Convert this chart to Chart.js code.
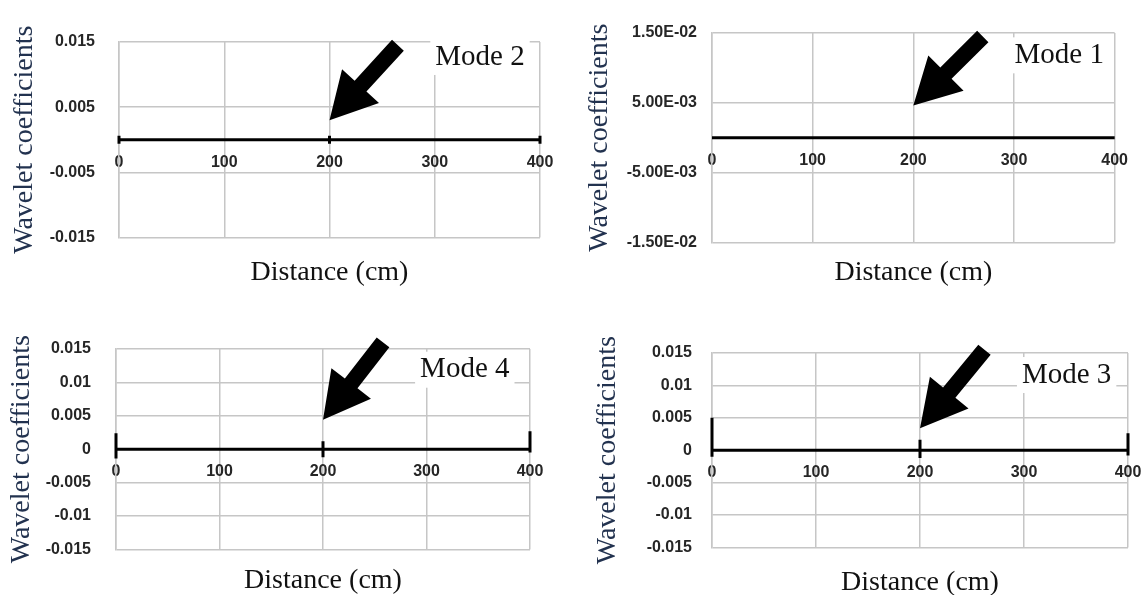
<!DOCTYPE html>
<html>
<head>
<meta charset="utf-8">
<script src="https://cdn.jsdelivr.net/npm/chart.js@4.4.1/dist/chart.umd.min.js"></script>
<style>
  html, body { margin: 0; padding: 0; background: #fff; overflow: hidden; width: 1141px; height: 595px; }
  body { position: relative; }
  canvas { position: absolute; }
</style>
</head>
<body>
<canvas id="mode2" width="570" height="300" style="left:0;top:0"></canvas>
<canvas id="mode1" width="571" height="300" style="left:570px;top:0"></canvas>
<canvas id="mode4" width="570" height="310" style="left:0;top:295px"></canvas>
<canvas id="mode3" width="600" height="310" style="left:570px;top:295px"></canvas>
<script>
// distance axis (cm)
const distanceTicks = [0, 100, 200, 300, 400];

// wavelet coefficients
const mode2X = [0, 200, 400];
const mode2Y = [0, 0, 0];
const mode1X = [0, 200, 400];
const mode1Y = [0, 0, 0];
const mode4X = [0, 0, 0, 200, 200, 200, 200, 400, 400, 400];
const mode4Y = [0.0024, -0.0014, 0, 0, 0.0012, -0.0012, 0, 0, 0.0027, -0.0005];
const mode3X = [0, 0, 0, 200, 200, 200, 200, 400, 400, 400];
const mode3Y = [0.005, -0.001, 0, 0, 0.0016, -0.0012, 0, 0, 0.0026, -0.0008];

// y tick values / labels
const topTickValues = [-0.015, -0.005, 0.005, 0.015];
const mode2TickLabels = ['-0.015', '-0.005', '0.005', '0.015'];
const mode1TickLabels = ['-1.50E-02', '-5.00E-03', '5.00E-03', '1.50E-02'];
const bottomTickValues = [-0.015, -0.01, -0.005, 0, 0.005, 0.01, 0.015];
const bottomTickLabels = ['-0.015', '-0.01', '-0.005', '0', '0.005', '0.01', '0.015'];

const serif = '"Liberation Serif", "Times New Roman", serif';
const sans = '"Liberation Sans", Arial, sans-serif';
const gridColor = '#c6c6c6';
const tickColor = '#262626';

// arrow + "Mode n" box, placed in data coordinates
const notesPlugin = {
  id: 'notes',
  afterDatasetsDraw(chart, args, opts) {
    const { ctx, scales: { x, y } } = chart;
    const [x0, y0, x1, y1] = opts.arrow;
    const tx = x.getPixelForValue(x0), ty = y.getPixelForValue(y0);
    const hx = x.getPixelForValue(x1), hy = y.getPixelForValue(y1);
    const ang = Math.atan2(hy - ty, hx - tx);
    const len = Math.hypot(hx - tx, hy - ty);
    const headLen = 46, headW = 25, shaftW = 8;

    ctx.save();
    ctx.font = '29px ' + serif;
    const w = ctx.measureText(opts.text).width;
    const cx = x.getPixelForValue(opts.at[0]), cy = y.getPixelForValue(opts.at[1]);
    ctx.fillStyle = '#fff';
    ctx.fillRect(cx - w / 2 - 5, cy - 18, w + 10, 36);
    ctx.fillStyle = '#111';
    ctx.textAlign = 'center';
    ctx.textBaseline = 'middle';
    ctx.fillText(opts.text, cx, cy);
    ctx.restore();

    ctx.save();
    ctx.translate(hx, hy);
    ctx.rotate(ang);
    ctx.beginPath();
    ctx.moveTo(0, 0);
    ctx.lineTo(-headLen, -headW);
    ctx.lineTo(-headLen, -shaftW);
    ctx.lineTo(-len, -shaftW);
    ctx.lineTo(-len, shaftW);
    ctx.lineTo(-headLen, shaftW);
    ctx.lineTo(-headLen, headW);
    ctx.closePath();
    ctx.fillStyle = '#000';
    ctx.fill();
    ctx.restore();
  }
};

const panels = [
  { id: 'mode2', name: 'Mode 2', xs: mode2X, ys: mode2Y, tickValues: topTickValues, tickLabels: mode2TickLabels,
    markers: true, pad: { left: 8, top: 42, right: 30, bottom: 11 }, axisWidth: 111, tickPad: 24, titlePad: 18,
    arrow: [265, 0.0145, 200, 0.003], modeAt: [343, 0.0127] },
  { id: 'mode1', name: 'Mode 1', xs: mode1X, ys: mode1Y, tickValues: topTickValues, tickLabels: mode1TickLabels,
    markers: false, pad: { left: 13, top: 33, right: 23, bottom: 11 }, axisWidth: 129, tickPad: 15, titlePad: 13,
    arrow: [269, 0.0145, 200, 0.0046], modeAt: [345, 0.0118] },
  { id: 'mode4', name: 'Mode 4', xs: mode4X, ys: mode4Y, tickValues: bottomTickValues, tickLabels: bottomTickLabels,
    markers: false, pad: { left: 5, top: 54, right: 40, bottom: 8 }, axisWidth: 111, tickPad: 25, titlePad: 14,
    arrow: [258, 0.016, 200, 0.0044], modeAt: [337, 0.0119] },
  { id: 'mode3', name: 'Mode 3', xs: mode3X, ys: mode3Y, tickValues: bottomTickValues, tickLabels: bottomTickLabels,
    markers: false, pad: { left: 21, top: 58, right: 42, bottom: 6 }, axisWidth: 121, tickPad: 20, titlePad: 18,
    arrow: [262, 0.0155, 200, 0.0034], modeAt: [341, 0.0116] }
];

panels.forEach(p => {
  const ctx = document.getElementById(p.id).getContext('2d');
  new Chart(ctx, {
    type: 'line',
    data: {
      datasets: [{
        data: p.xs.map((v, i) => ({ x: v, y: p.ys[i] })),
        borderColor: '#000',
        borderWidth: 3,
        pointRadius: p.markers ? 4 : 0,
        pointStyle: 'line',
        rotation: 90,
        pointBorderColor: '#000',
        pointBorderWidth: 3,
        tension: 0,
        clip: 6
      }]
    },
    options: {
      responsive: false,
      animation: false,
      layout: { padding: p.pad },
      plugins: {
        legend: { display: false },
        tooltip: { enabled: false },
        title: {
          display: true,
          position: 'bottom',
          fullSize: false,
          text: 'Distance (cm)',
          color: '#111',
          font: { family: serif, size: 28, weight: 'normal', lineHeight: 1.2 },
          padding: { top: p.titlePad, bottom: 0 }
        },
        notes: { arrow: p.arrow, at: p.modeAt, text: p.name }
      },
      scales: {
        x: {
          type: 'linear',
          position: { y: 0 },
          min: 0,
          max: 400,
          afterBuildTicks: a => { a.ticks = distanceTicks.map(v => ({ value: v })); },
          grid: { color: gridColor, lineWidth: 1.5, drawTicks: false },
          border: { display: false },
          ticks: { padding: 13, color: tickColor, font: { family: sans, size: 16, weight: 'bold' }, maxRotation: 0, autoSkip: false }
        },
        y: {
          type: 'linear',
          min: -0.015,
          max: 0.015,
          afterBuildTicks: a => { a.ticks = p.tickValues.map(v => ({ value: v })); },
          afterFit: a => { a.width = p.axisWidth; },
          grid: { color: gridColor, lineWidth: 1.5, drawTicks: false },
          border: { color: gridColor, width: 1.5 },
          ticks: {
            padding: p.tickPad,
            color: tickColor,
            font: { family: sans, size: 16, weight: 'bold' },
            autoSkip: false,
            callback: (v, i) => p.tickLabels[i]
          },
          title: {
            display: true,
            text: 'Wavelet coefficients',
            color: '#22324f',
            font: { family: serif, size: 28, weight: 'normal', lineHeight: 1.2 },
            padding: { top: 0, bottom: 0 }
          }
        }
      }
    },
    plugins: [notesPlugin]
  });
});
</script>
</body>
</html>
